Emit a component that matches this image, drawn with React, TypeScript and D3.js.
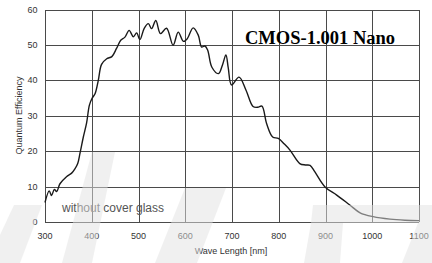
import { useEffect, useRef } from 'react';
import * as d3 from 'd3';

const wavelengths = [300, 309, 314, 320, 325, 332, 346, 357, 364, 370, 375, 382, 389, 395, 401, 407, 414, 421, 432, 443, 453, 462, 471, 480, 489, 496, 503, 512, 521, 528, 537, 547, 560, 574, 585, 596, 604, 617, 628, 635, 642, 648, 657, 671, 680, 687, 692, 699, 715, 730, 745, 755, 764, 774, 787, 799, 812, 824, 845, 857, 867, 877, 899, 924, 952, 974, 1002, 1038, 1070, 1100];
const efficiency = [5.5, 8.8, 7.5, 9.2, 8.6, 10.8, 12.8, 13.8, 15, 16.5, 19.5, 24, 28, 33, 35, 36.2, 40, 44.5, 46.1, 46.7, 49, 51.3, 52.2, 54.1, 52.3, 53.4, 51.5, 54.6, 56, 54.6, 56.9, 53.2, 54.7, 49.9, 53.6, 51, 51.7, 54.8, 52.7, 49.4, 49.7, 48.5, 43.7, 41.9, 44.5, 47.2, 43.5, 38.7, 40.9, 37.2, 32.6, 32.4, 32.7, 27.8, 24, 23.6, 22, 20.3, 16.5, 16.1, 16, 14.2, 9.9, 7.6, 4.8, 2.6, 1.5, 0.8, 0.5, 0.4];
const xTicks = [300, 400, 500, 600, 700, 800, 900, 1000, 1100];
const yTicks = [0, 10, 20, 30, 40, 50, 60];

// faint watermark shapes laid over the chart
const watermark = [
  [[0, 263], [20, 263], [42, 205], [14, 205], [0, 235]],
  [[62, 263], [92, 263], [115, 152], [92, 152]],
  [[155, 263], [197, 263], [226, 188], [185, 188]],
  [[313, 205], [432, 205], [432, 223], [311, 223]],
  [[311, 223], [343, 223], [340, 263], [304, 263]],
  [[402, 263], [432, 263], [432, 223], [418, 223]],
];

const W = 432;
const H = 263;

export default function App() {
  const svgRef = useRef<SVGSVGElement>(null);

  useEffect(() => {
    const svg = d3.select(svgRef.current);
    svg.selectAll('*').remove();

    const x = d3.scaleLinear().domain([300, 1100]).range([45, 419]);
    const y = d3.scaleLinear().domain([0, 60]).range([222, 9.5]);
    const font = 'Arial, "Liberation Sans", sans-serif';

    svg.append('rect').attr('width', W).attr('height', H).attr('fill', '#fff');

    const grid = svg.append('g').attr('stroke', '#4a4a4a').attr('stroke-width', 1).attr('shape-rendering', 'crispEdges');
    grid.selectAll('line.v')
      .data(xTicks)
      .join('line')
      .attr('class', 'v')
      .attr('x1', d => Math.round(x(d)) + 0.5)
      .attr('x2', d => Math.round(x(d)) + 0.5)
      .attr('y1', y(60))
      .attr('y2', y(0));
    grid.selectAll('line.h')
      .data(yTicks)
      .join('line')
      .attr('class', 'h')
      .attr('y1', d => Math.round(y(d)) + 0.5)
      .attr('y2', d => Math.round(y(d)) + 0.5)
      .attr('x1', x(300))
      .attr('x2', x(1100));

    svg.append('g')
      .selectAll('text')
      .data(xTicks)
      .join('text')
      .attr('x', d => x(d))
      .attr('y', 239)
      .attr('text-anchor', 'middle')
      .style('font-family', font)
      .style('font-size', '9px')
      .attr('fill', '#333')
      .text(d => d);

    svg.append('g')
      .selectAll('text')
      .data(yTicks)
      .join('text')
      .attr('x', 37.5)
      .attr('y', d => y(d) + 3)
      .attr('text-anchor', 'end')
      .style('font-family', font)
      .style('font-size', '9px')
      .attr('fill', '#333')
      .text(d => d);

    svg.append('text')
      .attr('x', 231)
      .attr('y', 254)
      .attr('text-anchor', 'middle')
      .style('font-family', font)
      .style('font-size', '9px')
      .attr('fill', '#333')
      .text('Wave Length [nm]');

    svg.append('text')
      .attr('transform', 'translate(22,115.5) rotate(-90)')
      .attr('text-anchor', 'middle')
      .style('font-family', font)
      .style('font-size', '9px')
      .attr('fill', '#333')
      .text('Quantum Efficiency');

    const pts = wavelengths.map((w, i) => [w, efficiency[i]] as [number, number]);
    const line = d3.line<[number, number]>()
      .x(d => x(d[0]))
      .y(d => y(d[1]))
      .curve(d3.curveCatmullRom.alpha(0.5));

    svg.append('path')
      .attr('d', line(pts))
      .attr('fill', 'none')
      .attr('stroke', '#1a1a1a')
      .attr('stroke-width', 1.4);

    svg.append('text')
      .attr('x', 245)
      .attr('y', 43.5)
      .style('font-family', '"Times New Roman", "Liberation Serif", serif')
      .style('font-size', '18.5px')
      .style('font-weight', 'bold')
      .attr('fill', '#000')
      .text('CMOS-1.001 Nano');

    svg.append('text')
      .attr('x', 62)
      .attr('y', 211.5)
      .style('font-family', font)
      .style('font-size', '12px')
      .attr('fill', '#555')
      .text('without cover glass');

    svg.append('g')
      .selectAll('path')
      .data(watermark)
      .join('path')
      .attr('d', d => 'M' + d.map(p => p.join(',')).join('L') + 'Z')
      .attr('fill', '#e2e2e2')
      .attr('fill-opacity', 0.5);
  }, []);

  return (
    <svg
      ref={svgRef}
      width={W}
      height={H}
      style={{ position: 'absolute', left: 0, top: 0, display: 'block' }}
    />
  );
}
